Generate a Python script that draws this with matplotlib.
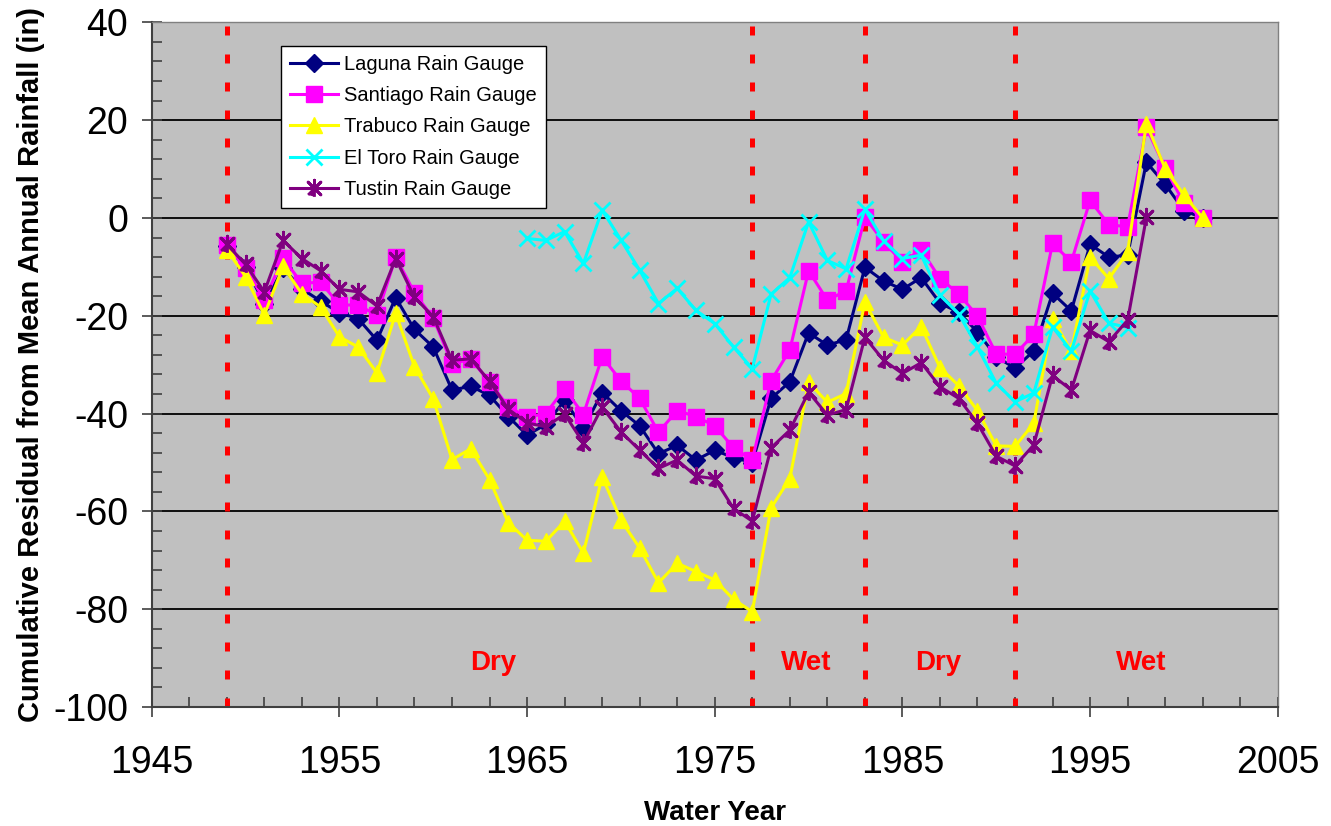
import numpy as np
import matplotlib.pyplot as plt
from matplotlib.ticker import MultipleLocator

plt.rcParams['font.family'] = ['Liberation Sans', 'DejaVu Sans']
plt.rcParams['axes.unicode_minus'] = False

years = list(range(1949, 2002))

laguna = [-5.8, -10, -17.5, -10.3, -14.5, -17, -19.4, -20.6, -25, -16.3,
          -22.8, -26.4, -35.2, -34.4, -36.3, -40.6, -44.4, -42.2, -37.3, -43,
          -35.7, -39.4, -42.5, -48.2, -46.5, -49.5, -47.5, -49, -50, -36.9,
          -33.5, -23.5, -26, -24.9, -10.1, -12.9, -14.6, -12.2, -17.4, -19.3,
          -23.3, -28.4, -30.7, -27.2, -15.4, -19, -5.4, -8, -7.6, 11.4,
          6.9, 1.5, 0]

santiago = [-5.6, -10.2, -16.8, -8.2, -13.4, -13.1, -17.8, -17.8, -19.9, -8,
            -15.3, -20.5, -29.8, -28.9, -33.5, -38.6, -40.7, -40, -34.9, -40.2,
            -28.4, -33.3, -36.9, -43.8, -39.4, -40.6, -42.5, -47, -49.5, -33.3,
            -27, -10.8, -16.8, -14.9, 0.1, -4.9, -9, -6.5, -12.4, -15.5,
            -20.1, -27.8, -27.9, -23.8, -5.2, -9, 3.6, -1.4, -1.8, 18.5,
            10.2, 3, 0]

trabuco = [-6.5, -12, -19.8, -9.9, -15.5, -18.2, -24.3, -26.4, -31.7, -19.5,
           -30.4, -37, -49.4, -47.2, -53.5, -62.3, -65.9, -66.1, -62, -68.5,
           -52.9, -61.8, -67.5, -74.6, -70.6, -72.3, -74, -78, -80.5, -59.3,
           -53.3, -33.6, -37.7, -35.9, -17.2, -24.4, -26, -22.2, -30.6, -34.3,
           -39.4, -46.6, -46.7, -42, -20.6, -27.3, -8, -12.4, -7, 19.3,
           10.1, 4.7, 0]

eltoro_years = list(range(1965, 1998))
eltoro = [-4.2, -4.6, -2.8, -9.3, 1.6, -4.5, -10.7, -17.5, -14.4, -18.9,
          -21.6, -26.4, -30.8, -15.6, -12.2, -0.8, -8.7, -10.4, 1.8, -4.7,
          -8.3, -7.6, -15.8, -19.6, -26.4, -33.8, -37.6, -35.8, -22.3, -27.2,
          -14.9, -21.5, -22.4]

tustin_years = list(range(1949, 1999))
tustin = [-5.4, -9.5, -15.1, -4.6, -8.3, -10.8, -14.6, -15.1, -18, -8.3,
          -16.2, -20.2, -29.1, -28.8, -33.4, -39.1, -41.9, -42.7, -40.1, -46,
          -38.7, -43.7, -47.5, -51.2, -49.5, -52.8, -53.3, -59.4, -62, -47,
          -43.4, -35.6, -40.3, -39.2, -24.4, -29.1, -31.8, -29.6, -34.5, -36.9,
          -42, -48.7, -50.7, -46.4, -32.2, -35.2, -23, -25.3, -20.9, 0.1]

breaks = [1949, 1977, 1983, 1991]
periods = ['Dry', 'Wet', 'Dry', 'Wet']
period_x = [1963.2, 1979.9, 1986.9, 1997.7]

fig = plt.figure(figsize=(13.31, 8.26), dpi=100)
ax = fig.add_axes([0.114, 0.144, 0.846, 0.829])
ax.set_facecolor('#C0C0C0')

for b in breaks:
    ax.axvline(b, color='#FF0000', lw=3.6, ls=(0, (1.8, 3.8)), zorder=1)

# Excel-like asterisk marker: x with a vertical bar
ast = [(-1, -1), (1, 1), (0, 0), (-1, 1), (1, -1), (0, 0), (0, 1.3), (0, -1.3)]

ax.plot(years, laguna, color='#000080', lw=2.2, marker='D', ms=9,
        label='Laguna Rain Gauge', zorder=2)
ax.plot(years, santiago, color='#FF00FF', lw=2.2, marker='s', ms=11,
        label='Santiago Rain Gauge', zorder=3)
ax.plot(years, trabuco, color='#FFFF00', lw=2.2, marker='^', ms=12,
        label='Trabuco Rain Gauge', zorder=4)
ax.plot(eltoro_years, eltoro, color='#00FFFF', lw=2.2, marker='x', ms=11,
        mew=2, label='El Toro Rain Gauge', zorder=5)
ax.plot(tustin_years, tustin, color='#800080', lw=2.2, marker=ast, ms=12,
        mew=2, label='Tustin Rain Gauge', zorder=6)

for x, t in zip(period_x, periods):
    ax.text(x, -91, t, color='#FF0000', fontsize=20, fontweight='bold',
            ha='center', va='center')

ax.set_xlim(1945, 2005)
ax.set_ylim(-100, 40)
ax.xaxis.set_major_locator(MultipleLocator(10, offset=5))
ax.xaxis.set_minor_locator(MultipleLocator(2, offset=1))
ax.yaxis.set_major_locator(MultipleLocator(20))
ax.yaxis.set_minor_locator(MultipleLocator(4))
ax.grid(axis='y', which='major', color='black', lw=1.3, zorder=0)
ax.set_axisbelow(True)

ax.tick_params(which='major', direction='inout', length=14, width=1.2,
               labelsize=27, color='#404040')
ax.tick_params(axis='x', which='major', pad=20)
ax.tick_params(axis='y', which='major', pad=10)
ax.tick_params(which='minor', direction='in', length=7, width=1.2,
               color='#404040')
for s in ['top', 'right']:
    ax.spines[s].set_color('#808080')
    ax.spines[s].set_linewidth(1)
for s in ['left', 'bottom']:
    ax.spines[s].set_color('#404040')
    ax.spines[s].set_linewidth(1.5)

ax.set_xlabel('Water Year', fontsize=20, fontweight='bold', labelpad=14)
ax.set_ylabel('Cumulative Residual from Mean Annual Rainfall (in)',
              fontsize=21, fontweight='bold', labelpad=6)

leg = ax.legend(loc='upper left', bbox_to_anchor=(0.1146, 0.965),
                borderaxespad=0, fontsize=14.5, fancybox=False, framealpha=1,
                edgecolor='black', handlelength=2.4, labelspacing=0.6,
                borderpad=0.45, handletextpad=0.3)
leg.get_frame().set_linewidth(1)
leg.set_zorder(10)

fig.savefig('out.png', dpi=100)
